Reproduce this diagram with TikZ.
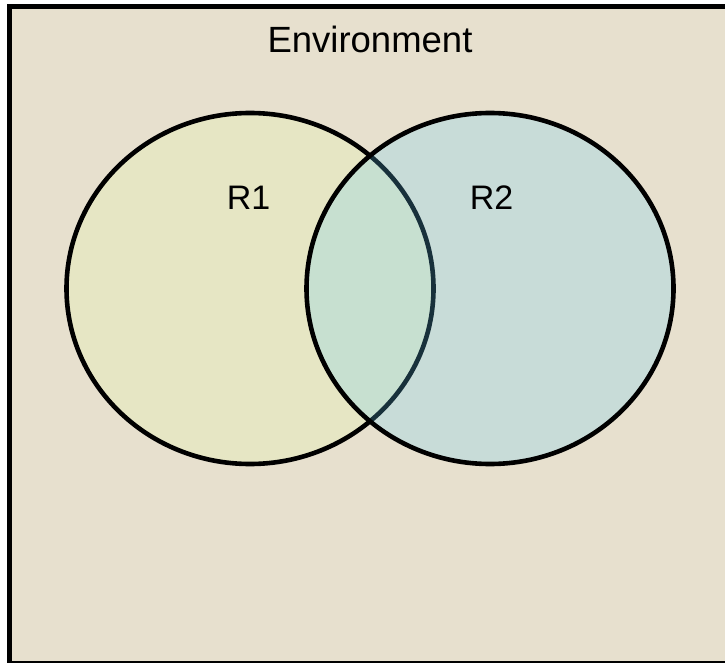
\documentclass[tikz,border=0pt]{standalone}
\usepackage{fontspec}
\setmainfont{Liberation Sans}
\definecolor{envbg}{RGB}{231,224,206}
\definecolor{rone}{RGB}{230,230,196}
\definecolor{rtwo}{RGB}{104,208,250}
\tikzset{
  set/.style={line width=4.6pt, draw=black},
  lbl/.style={anchor=base, inner sep=0pt, font=\fontsize{34}{40}\selectfont},
}
\begin{document}
\begin{tikzpicture}[x=1pt, y=-1pt]
\useasboundingbox (0,0) rectangle (725,663);
\clip (0,0) rectangle (725,663);
\draw[line width=5pt, fill=envbg] (9.5,6.5) rectangle (735,663.5);
\draw[set, fill=rone] (250,288.5) ellipse [x radius=183.5, y radius=175.5];
\fill[rtwo, fill opacity=0.24] (490,288.5) ellipse [x radius=183.5, y radius=175.5];
\draw[set] (490,288.5) ellipse [x radius=183.5, y radius=175.5];
\node[lbl, font=\fontsize{36.5}{42}\selectfont] (env) at (370,53) {Environment};
\node[lbl] (r1) at (248.5,210) {R1};
\node[lbl] (r2) at (491.5,210) {R2};
\end{tikzpicture}
\end{document}
